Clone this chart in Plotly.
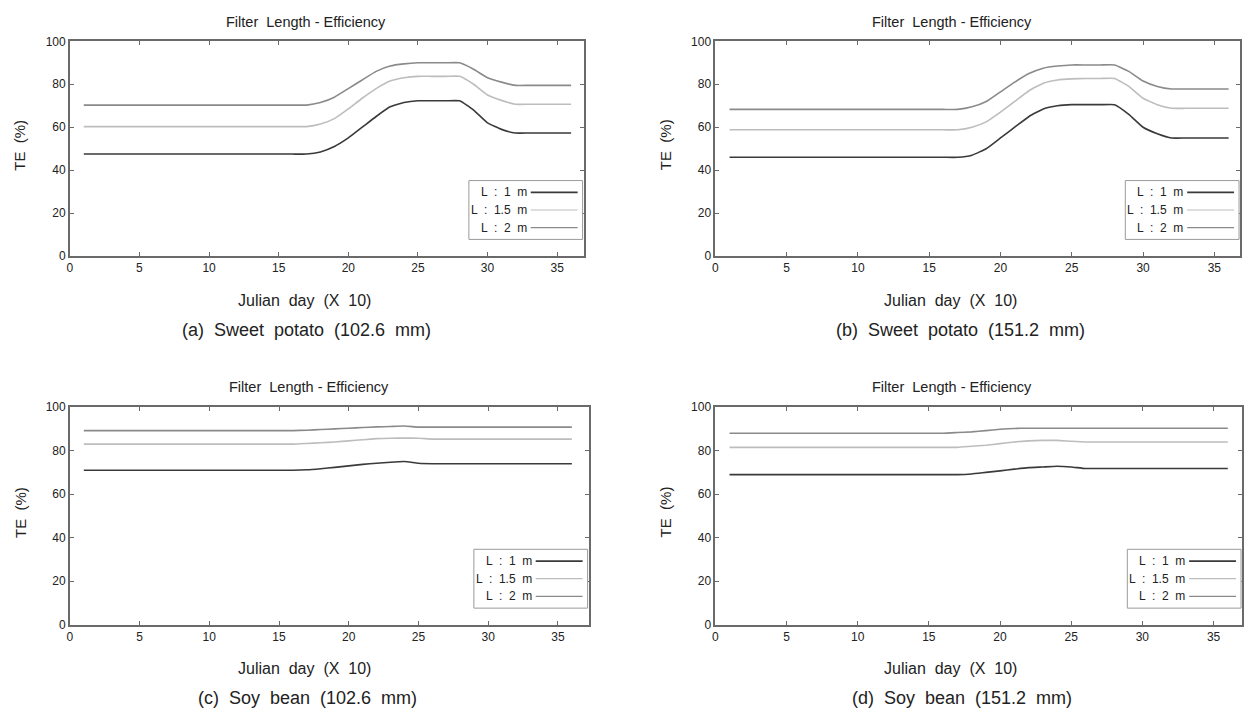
import plotly.graph_objects as go

W, H = 1253, 723

days = list(range(1, 37))

# Panel (a) Sweet potato (102.6 mm)
a_L1 = [47.5]*17 + [48.5, 51, 55, 60, 65, 69.5, 71.5, 72.3, 72.3, 72.3, 72.3, 68, 62, 59, 57.3] + [57.3]*4
a_L15 = [60.3]*17 + [61.5, 64, 68.5, 73.5, 78, 81.5, 83, 83.7, 83.7, 83.7, 83.7, 80, 75, 72.5, 70.7] + [70.7]*4
a_L2 = [70.3]*17 + [71.5, 74, 78, 82, 86, 88.5, 89.5, 90, 90, 90, 90, 87, 83, 81, 79.5] + [79.5]*4

# Panel (b) Sweet potato (151.2 mm)
b_L1 = [46]*17 + [47, 50, 55, 60, 65, 68.5, 70, 70.5, 70.5, 70.5, 70.5, 66, 60, 57, 55] + [55]*4
b_L15 = [58.8]*17 + [60, 62.5, 67, 72, 77, 80.5, 82, 82.5, 82.7, 82.7, 82.7, 79, 73.5, 70.5, 68.8] + [68.8]*4
b_L2 = [68.3]*17 + [69.5, 72, 76.5, 81, 85, 87.5, 88.5, 89, 89, 89, 89, 86, 81.5, 79, 77.8] + [77.8]*4

# Panel (c) Soy bean (102.6 mm)
c_L1 = [71]*16 + [71.2, 71.7, 72.3, 73, 73.7, 74.2, 74.7, 75, 74.2] + [74]*11
c_L15 = [83]*16 + [83.3, 83.6, 84, 84.5, 85, 85.5, 85.7, 85.8, 85.7] + [85.3]*11
c_L2 = [89.2]*16 + [89.4, 89.7, 90, 90.3, 90.6, 90.9, 91.1, 91.3, 90.8] + [90.8]*11

# Panel (d) Soy bean (151.2 mm)
d_L1 = [69]*17 + [69.3, 70, 70.7, 71.5, 72.2, 72.5, 72.8, 72.5] + [71.8]*11
d_L15 = [81.5]*17 + [82, 82.5, 83.2, 84, 84.5, 84.7, 84.7, 84.3] + [84]*11
d_L2 = [88]*16 + [88.3, 88.6, 89.2, 89.8, 90.2] + [90.3]*15

series_names = ["L  :  1  m", "L  :  1.5  m", "L  :  2  m"]
series_colors = ["#3a3a3a", "#bdbdbd", "#8a8a8a"]
panel_titles = ["Filter  Length - Efficiency"] * 4
captions = ["(a)  Sweet  potato  (102.6  mm)", "(b)  Sweet  potato  (151.2  mm)",
            "(c)  Soy  bean  (102.6  mm)", "(d)  Soy  bean  (151.2  mm)"]
x_title = "Julian  day  (X  10)"
y_title = "TE  (%)"
x_ticks = [0, 5, 10, 15, 20, 25, 30, 35]
y_ticks = [0, 20, 40, 60, 80, 100]

panels = [
    (a_L1, a_L15, a_L2),
    (b_L1, b_L15, b_L2),
    (c_L1, c_L15, c_L2),
    (d_L1, d_L15, d_L2),
]

# pixel boxes of the plot areas: (left, right, top, bottom)
boxes = [(67, 582, 35, 254), (714, 1240, 35, 254), (67, 587, 408, 630), (714, 1242, 408, 630)]
x_ranges = [[0, 36.9], [0, 36.8], [0, 37.2], [0, 37]]
# text centres (pixels): title, x title, caption
text_cx = [(304, 302, 304), (951, 950, 960), (307, 302, 305), (951, 950, 961)]

def px(x):
    return x / W

def py(y):
    return 1 - y / H

FONT = "Liberation Sans, Arial, sans-serif"
fig = go.Figure()
layout = dict(width=W, height=H, margin=dict(l=0, r=0, t=0, b=0), autosize=False,
              paper_bgcolor="white", plot_bgcolor="white", showlegend=False,
              font=dict(family=FONT, color="#222"))
shapes = []
annotations = []

def ann(text, x, y, size, xanchor="center", angle=0):
    annotations.append(dict(text=text, x=px(x), y=py(y), xref="paper", yref="paper",
                            xanchor=xanchor, yanchor="middle", showarrow=False, textangle=angle,
                            font=dict(size=size, family=FONT, color="#222")))

for i, (vals, box, xr) in enumerate(zip(panels, boxes, x_ranges)):
    n = "" if i == 0 else str(i + 1)
    xa, ya = "x" + n, "y" + n
    for name, col, v in zip(series_names, series_colors, vals):
        fig.add_trace(go.Scatter(x=days, y=v, mode="lines", name=name,
                                 line=dict(color=col, width=1.6, shape="spline", smoothing=0.4),
                                 xaxis=xa, yaxis=ya, showlegend=False))
    l, r, t, b = box
    axcommon = dict(showgrid=False, zeroline=False, showline=True, linecolor="#6a6a6a",
                    linewidth=1.5, mirror="allticks", ticks="inside", ticklen=4,
                    tickcolor="#6a6a6a", tickfont=dict(size=12, family=FONT, color="#222"))
    layout["xaxis" + n] = dict(domain=[px(l), px(r)], range=xr, tickvals=x_ticks,
                               anchor=ya, **axcommon)
    layout["yaxis" + n] = dict(domain=[py(b), py(t)], range=[0, 100], tickvals=y_ticks,
                               anchor=xa, **axcommon)
    tc, xc, cc = text_cx[i]
    ann(panel_titles[i], tc, t - 20, 14.5)
    ann(x_title, xc, b + 45, 16)
    ann(captions[i], cc, b + 75, 18)
    ann(y_title, l - 50, (t + b) / 2 - 4, 15, angle=-90)
    # legend box
    lx0, lx1 = r - 115, r - 1
    ly0, ly1 = b - 77, b - 17
    shapes.append(dict(type="rect", xref="paper", yref="paper", x0=px(lx0), x1=px(lx1),
                       y0=py(ly1), y1=py(ly0), line=dict(color="#9a9a9a", width=1),
                       fillcolor="white", layer="above"))
    for k, (name, col) in enumerate(zip(series_names, series_colors)):
        yy = ly0 + 12 + k * 18
        shapes.append(dict(type="line", xref="paper", yref="paper", x0=px(lx1 - 52), x1=px(lx1 - 5),
                           y0=py(yy), y1=py(yy), line=dict(color=col, width=1.8 if k == 0 else 1.2),
                           layer="above"))
        ann(name, lx1 - 54, yy, 12, xanchor="right")

layout["shapes"] = shapes
layout["annotations"] = annotations
fig.update_layout(**layout)
fig.write_html("out.html", config={"displayModeBar": False})

# remove default page margin so the figure sits at the window origin
with open("out.html", encoding="utf-8") as f:
    html = f.read()
html = html.replace("<head>", "<head><style>html,body{margin:0;padding:0;overflow:hidden;}</style>", 1)
with open("out.html", "w", encoding="utf-8") as f:
    f.write(html)
